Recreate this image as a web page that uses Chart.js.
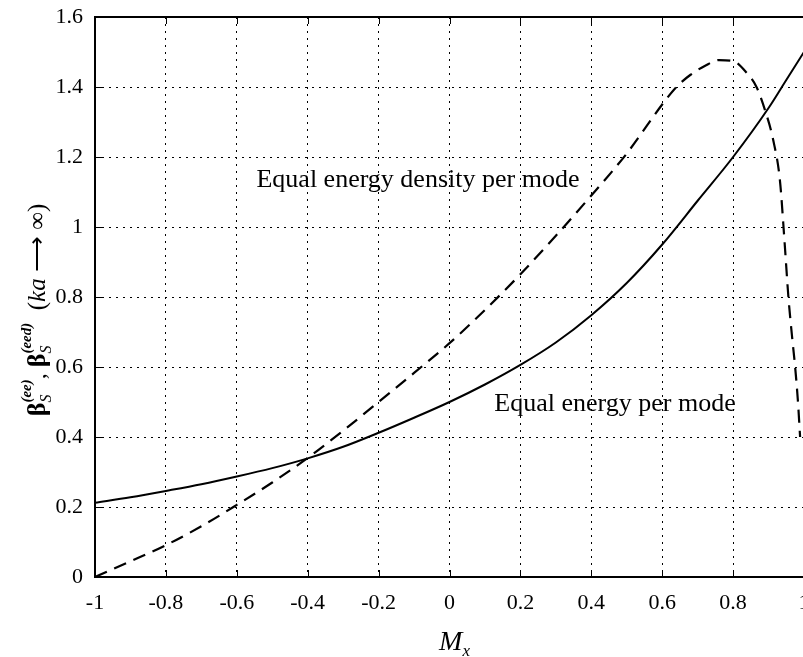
<!DOCTYPE html>
<html>
<head>
<meta charset="utf-8">
<title>beta_S vs M_x</title>
<script src="https://cdn.jsdelivr.net/npm/chart.js@4.4.1/dist/chart.umd.min.js"></script>
<style>
  html, body { margin: 0; padding: 0; background: #fff; overflow: hidden; }
  #wrap { width: 830px; height: 657px; }
</style>
</head>
<body>
<div id="wrap"><canvas id="chart"></canvas></div>
<script>
// values
const mxEqualEnergy = [-1, -0.9, -0.8, -0.7, -0.6, -0.5, -0.4, -0.3, -0.2, -0.1, 0, 0.1, 0.2, 0.3, 0.4, 0.5, 0.6, 0.7, 0.8, 0.9, 0.95, 1];
const betaEqualEnergy = [0.212, 0.228, 0.246, 0.265, 0.287, 0.311, 0.339, 0.372, 0.412, 0.455, 0.5, 0.55, 0.606, 0.67, 0.748, 0.84, 0.95, 1.075, 1.2, 1.34, 1.42, 1.5];

const mxEqualDensity = [-1, -0.9, -0.8, -0.7, -0.6, -0.5, -0.4, -0.3, -0.2, -0.1, 0, 0.1, 0.2, 0.3, 0.4, 0.5, 0.6, 0.64, 0.68, 0.72, 0.76, 0.8, 0.836, 0.866, 0.89, 0.913, 0.932, 0.945, 0.956, 0.966, 0.975, 0.983, 0.989];
const betaEqualDensity = [0, 0.045, 0.091, 0.145, 0.206, 0.27, 0.34, 0.418, 0.5, 0.583, 0.668, 0.763, 0.865, 0.975, 1.09, 1.21, 1.35, 1.4, 1.435, 1.46, 1.477, 1.474, 1.443, 1.4, 1.334, 1.249, 1.134, 0.96, 0.8, 0.69, 0.6, 0.5, 0.4];

const xTicks = [-1, -0.8, -0.6, -0.4, -0.2, 0, 0.2, 0.4, 0.6, 0.8, 1];
const yTicks = [0, 0.2, 0.4, 0.6, 0.8, 1, 1.2, 1.4, 1.6];

const notes = [
  { text: 'Equal energy density per mode', x: -0.089, y: 1.114 },
  { text: 'Equal energy per mode', x: 0.467, y: 0.474 },
];

const SERIF = '"Liberation Serif", "Times New Roman", serif';

const toPoints = (xs, ys) => xs.map((x, i) => ({ x, y: ys[i] }));
const fmt = (v) => String(Math.round(v * 10) / 10);

// draws a run of text pieces; pieces with stack:true share the x of the previous base glyph
const drawRich = (ctx, parts, x0, y0) => {
  let x = x0;
  let stackStart = null;
  let stackWidth = 0;
  parts.forEach((p) => {
    ctx.font = p.font;
    const w = ctx.measureText(p.t).width;
    if (p.stack) {
      if (stackStart === null) { stackStart = x; stackWidth = 0; }
      ctx.fillText(p.t, stackStart, y0 + (p.dy || 0));
      stackWidth = Math.max(stackWidth, w);
      x = stackStart + stackWidth;
    } else {
      stackStart = null;
      ctx.fillText(p.t, x, y0 + (p.dy || 0));
      x += w;
    }
  });
  return x - x0;
};

const yLabelParts = [
  { t: 'β', font: `bold 26px ${SERIF}` },
  { t: 'S', font: `italic 16px ${SERIF}`, dy: 6, stack: true },
  { t: '(ee)', font: `italic bold 15px ${SERIF}`, dy: -14, stack: true },
  { t: ', ', font: `24px ${SERIF}` },
  { t: 'β', font: `bold 26px ${SERIF}` },
  { t: 'S', font: `italic 16px ${SERIF}`, dy: 6, stack: true },
  { t: '(eed)', font: `italic bold 15px ${SERIF}`, dy: -14, stack: true },
  { t: '  (', font: `25px ${SERIF}` },
  { t: 'ka', font: `italic 25px ${SERIF}` },
  { t: ' ⟶ ∞)', font: `25px ${SERIF}` },
];

const overlay = {
  id: 'overlay',
  afterDatasetsDraw(chart) {
    const { ctx, chartArea: a, scales: { x, y } } = chart;
    ctx.save();
    ctx.strokeStyle = '#000';
    ctx.fillStyle = '#000';

    // inward tick marks
    ctx.lineWidth = 1;
    ctx.beginPath();
    x.ticks.forEach((t) => {
      const px = Math.round(x.getPixelForValue(t.value)) + 0.5;
      ctx.moveTo(px, a.bottom); ctx.lineTo(px, a.bottom - 7);
      ctx.moveTo(px, a.top); ctx.lineTo(px, a.top + 7);
    });
    y.ticks.forEach((t) => {
      const py = Math.round(y.getPixelForValue(t.value)) + 0.5;
      ctx.moveTo(a.left, py); ctx.lineTo(a.left + 7, py);
    });
    ctx.stroke();

    // axes box
    ctx.lineWidth = 2;
    ctx.strokeRect(a.left, a.top, a.right - a.left, a.bottom - a.top);

    // curve notes
    ctx.font = `26px ${SERIF}`;
    ctx.textAlign = 'center';
    ctx.textBaseline = 'alphabetic';
    notes.forEach((n) => ctx.fillText(n.text, x.getPixelForValue(n.x), y.getPixelForValue(n.y)));

    // x title M_x
    ctx.textAlign = 'left';
    const cx = (a.left + a.right) / 2 + 5;
    ctx.font = `italic 28px ${SERIF}`;
    const mw = ctx.measureText('M').width;
    ctx.font = `italic 17px ${SERIF}`;
    const xw = ctx.measureText('x').width;
    const start = cx - (mw + xw) / 2;
    ctx.font = `italic 28px ${SERIF}`;
    ctx.fillText('M', start, 650);
    ctx.font = `italic 17px ${SERIF}`;
    ctx.fillText('x', start + mw, 656);

    // y title, rotated
    ctx.save();
    ctx.translate(45, (a.top + a.bottom) / 2 + 13);
    ctx.rotate(-Math.PI / 2);
    ctx.globalAlpha = 0;
    const total = drawRich(ctx, yLabelParts, 0, 0);
    ctx.globalAlpha = 1;
    drawRich(ctx, yLabelParts, -total / 2, 0);
    ctx.restore();

    ctx.restore();
  },
};

new Chart(document.getElementById('chart'), {
  type: 'line',
  data: {
    datasets: [
      {
        label: 'Equal energy per mode',
        data: toPoints(mxEqualEnergy, betaEqualEnergy),
        borderColor: '#000',
        borderWidth: 2,
        pointRadius: 0,
        cubicInterpolationMode: 'monotone',
      },
      {
        label: 'Equal energy density per mode',
        data: toPoints(mxEqualDensity, betaEqualDensity),
        borderColor: '#000',
        borderWidth: 2.2,
        borderDash: [13, 8],
        pointRadius: 0,
        cubicInterpolationMode: 'monotone',
      },
    ],
  },
  options: {
    responsive: true,
    maintainAspectRatio: false,
    animation: false,
    events: [],
    layout: { padding: { left: 0, top: 17, right: 26, bottom: 0 } },
    plugins: {
      legend: { display: false },
      tooltip: { enabled: false },
    },
    scales: {
      x: {
        type: 'linear',
        min: -1,
        max: 1,
        afterFit: (scale) => {
          scale.height = 80;
          scale.paddingLeft = 0;
          scale.paddingRight = 0;
        },
        afterBuildTicks: (scale) => { scale.ticks = xTicks.map((v) => ({ value: v })); },
        grid: { color: '#000', lineWidth: 1, drawTicks: false },
        border: { display: false, dash: [2, 5] },
        ticks: {
          color: '#000',
          padding: 13,
          maxRotation: 0,
          font: { family: SERIF, size: 22 },
          callback: (v) => fmt(v),
        },
      },
      y: {
        type: 'linear',
        min: 0,
        max: 1.6,
        afterFit: (scale) => {
          scale.width = 95;
          scale.paddingTop = 0;
          scale.paddingBottom = 0;
        },
        afterBuildTicks: (scale) => { scale.ticks = yTicks.map((v) => ({ value: v })); },
        grid: { color: '#000', lineWidth: 1, drawTicks: false },
        border: { display: false, dash: [2, 5] },
        ticks: {
          color: '#000',
          padding: 12,
          font: { family: SERIF, size: 22 },
          callback: (v) => fmt(v),
        },
      },
    },
  },
  plugins: [overlay],
});
</script>
</body>
</html>
